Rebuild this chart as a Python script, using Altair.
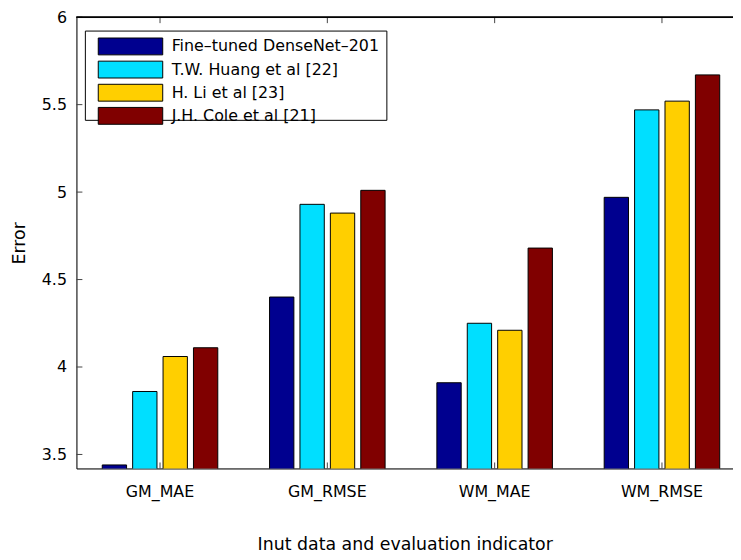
import altair as alt
import pandas as pd

categories = ["GM_MAE", "GM_RMSE", "WM_MAE", "WM_RMSE"]
series = ["Fine\u2013tuned DenseNet\u2013201", "T.W. Huang et al [22]", "H. Li et al [23]", "J.H. Cole et al [21]"]
densenet = [3.44, 4.40, 3.91, 4.97]
huang = [3.86, 4.93, 4.25, 5.47]
li = [4.06, 4.88, 4.21, 5.52]
cole = [4.11, 5.01, 4.68, 5.67]
colors = ["#00008F", "#00DFFF", "#FFCF00", "#800000"]
y_ticks = [3.5, 4, 4.5, 5, 5.5, 6]
y_domain = [3.42, 6]

rows = []
for s, vals in zip(series, [densenet, huang, li, cole]):
    for c, v in zip(categories, vals):
        rows.append({"cat": c, "series": s, "value": v})
df = pd.DataFrame(rows)
cat_df = pd.DataFrame({"cat": categories})
ytick_df = pd.DataFrame({"v": y_ticks})
leg_df = pd.DataFrame({"series": series})

W, H = 662, 455
FONT = "DejaVu Sans"
FS = 16
TFS = 17.5

xscale = alt.Scale(domain=categories, paddingInner=0.273, paddingOuter=0.0986, align=0.69, round=False)
yscale = alt.Scale(domain=y_domain, zero=False, nice=False)
cscale = alt.Scale(domain=series, range=colors)

bars = alt.Chart(df).mark_bar(stroke="black", strokeWidth=1, clip=True).encode(
    x=alt.X("cat:N", scale=xscale, sort=categories,
            axis=alt.Axis(title="Inut data and evaluation indicator", labelAngle=0,
                          tickSize=0, labelPadding=15, titlePadding=37,
                          domainColor="black", labelFontSize=FS, titleFontSize=TFS,
                          titleFontWeight="normal", labelColor="black", titleColor="black")),
    xOffset=alt.XOffset("series:N", sort=series,
                        scale=alt.Scale(domain=series, paddingInner=0.2, paddingOuter=0.1, round=False)),
    y=alt.Y("value:Q", scale=yscale,
            axis=alt.Axis(title="Error", values=y_ticks, format=".2~f", tickSize=0,
                          labelPadding=10, titlePadding=13, domainColor="black",
                          labelFontSize=FS, titleFontSize=TFS, titleFontWeight="normal",
                          labelColor="black", titleColor="black", grid=False)),
    color=alt.Color("series:N", scale=cscale, legend=None),
)

left_ticks = alt.Chart(ytick_df).mark_rule(color="#444", strokeWidth=1).encode(
    y=alt.Y("v:Q", scale=yscale), x=alt.value(0), x2=alt.value(6)
)
top_ticks = alt.Chart(cat_df).mark_rule(color="#444", strokeWidth=1).encode(
    x=alt.X("cat:N", scale=xscale, sort=categories), y=alt.value(0), y2=alt.value(6)
)
bottom_ticks = alt.Chart(cat_df).mark_rule(color="#444", strokeWidth=1).encode(
    x=alt.X("cat:N", scale=xscale, sort=categories), y=alt.value(H - 6), y2=alt.value(H)
)
top_line = alt.Chart(cat_df).mark_rule(color="black", strokeWidth=1).encode(
    x=alt.value(0), x2=alt.value(W), y=alt.value(0)
)

main = alt.layer(bars, left_ticks, top_ticks, bottom_ticks, top_line)

leg_box = alt.Chart(cat_df.head(1)).mark_rect(fill="white", stroke="black", strokeWidth=1).encode(
    x=alt.value(9), x2=alt.value(313), y=alt.value(14), y2=alt.value(104)
)
leg_y = alt.Y("series:N", sort=series,
              scale=alt.Scale(domain=series, range=[21, 108], paddingInner=0.2714, paddingOuter=0),
              axis=None)
leg_sw = alt.Chart(leg_df).mark_rect(stroke="black", strokeWidth=1).encode(
    x=alt.value(22), x2=alt.value(87), y=leg_y,
    color=alt.Color("series:N", scale=cscale, legend=None),
)
leg_txt = alt.Chart(leg_df).mark_text(align="left", baseline="middle", fontSize=FS,
                                       font=FONT, color="black").encode(
    x=alt.value(96), y=leg_y, text="series:N"
)
legend = alt.layer(leg_box, leg_sw, leg_txt)

chart = alt.layer(main, legend).resolve_scale(y="independent").properties(
    width=W, height=H,
    autosize=alt.AutoSizeParams(type="none"),
    padding={"left": 69, "top": 7, "right": 0, "bottom": 84},
).configure_view(stroke=None).configure(font=FONT)

chart.save("out.html", embed_options={"renderer": "svg", "actions": False})
